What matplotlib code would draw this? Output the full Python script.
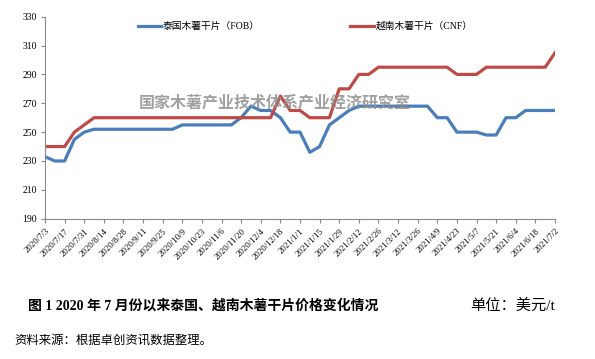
import matplotlib
matplotlib.use('Agg')
import matplotlib.pyplot as plt

plt.rcParams['font.family'] = ['Liberation Serif', 'Noto Sans CJK SC']

# 周度价格 2020/7/3 - 2021/7/2 (53 weeks)
thai_fob = [233, 230, 230, 245, 250, 252, 252, 252, 252, 252,
            252, 252, 252, 252, 255, 255, 255, 255, 255, 255,
            260, 268, 265, 265, 260, 250, 250, 236, 240, 255,
            260, 265, 268, 268, 268, 268, 268, 268, 268, 268,
            260, 260, 250, 250, 250, 248, 248, 260, 260, 265,
            265, 265, 265]
vn_cnf = [240, 240, 240, 250, 255, 260, 260, 260, 260, 260,
          260, 260, 260, 260, 260, 260, 260, 260, 260, 260,
          260, 260, 260, 260, 275, 265, 265, 260, 260, 260,
          280, 280, 290, 290, 295, 295, 295, 295, 295, 295,
          295, 295, 290, 290, 290, 295, 295, 295, 295, 295,
          295, 295, 305]
tick_labels = ['2020/7/3', '2020/7/17', '2020/7/31', '2020/8/14', '2020/8/28',
               '2020/9/11', '2020/9/25', '2020/10/9', '2020/10/23', '2020/11/6',
               '2020/11/20', '2020/12/4', '2020/12/18', '2021/1/1', '2021/1/15',
               '2021/1/29', '2021/2/12', '2021/2/26', '2021/3/12', '2021/3/26',
               '2021/4/9', '2021/4/23', '2021/5/7', '2021/5/21', '2021/6/4',
               '2021/6/18', '2021/7/2']

weeks = list(range(len(thai_fob)))

fig = plt.figure(figsize=(5.95, 3.59), dpi=100)
ax = fig.add_axes([0.0756, 0.3908, 0.8572, 0.5627])

ax.plot(weeks, thai_fob, color='#4A7EBB', lw=2.3, label='泰国木薯干片（FOB）')
ax.plot(weeks, vn_cnf, color='#BE4B48', lw=2.3, label='越南木薯干片（CNF）')

ax.set_xlim(0, 52)
ax.set_ylim(190, 330)
ax.set_yticks(range(190, 331, 20))
ax.set_xticks(weeks[::2])
ax.set_xticklabels(tick_labels, rotation=45, ha='right', rotation_mode='anchor', fontsize=6.3)
ax.tick_params(axis='y', labelsize=7, length=3, color='#888888', pad=3)
ax.tick_params(axis='x', length=3, color='#888888', pad=3)
for s in ['top', 'right']:
    ax.spines[s].set_visible(False)
for s in ['left', 'bottom']:
    ax.spines[s].set_color('#888888')
    ax.spines[s].set_linewidth(0.8)

ax.legend(loc='upper center', bbox_to_anchor=(0.51, 1.02), ncol=2, frameon=False,
          fontsize=7, handlelength=2.4, handletextpad=0.2, columnspacing=9.3)

# 水印
ax.text(0.45, 0.575, '国家木薯产业技术体系产业经济研究室', transform=ax.transAxes,
        ha='center', va='center', fontsize=11.5, fontweight='bold',
        color='#909090', alpha=0.85, family='Noto Sans CJK SC', zorder=5)

fig.text(0.047, 0.15, '图 1 2020 年 7 月份以来泰国、越南木薯干片价格变化情况',
         fontsize=10, fontweight='bold', va='center', ha='left')
fig.text(0.933, 0.15, '单位：美元/t', fontsize=11, va='center', ha='right')
fig.text(0.024, 0.052, '资料来源：根据卓创资讯数据整理。', fontsize=8.9, va='center', ha='left')

fig.savefig('out.png', dpi=100)
